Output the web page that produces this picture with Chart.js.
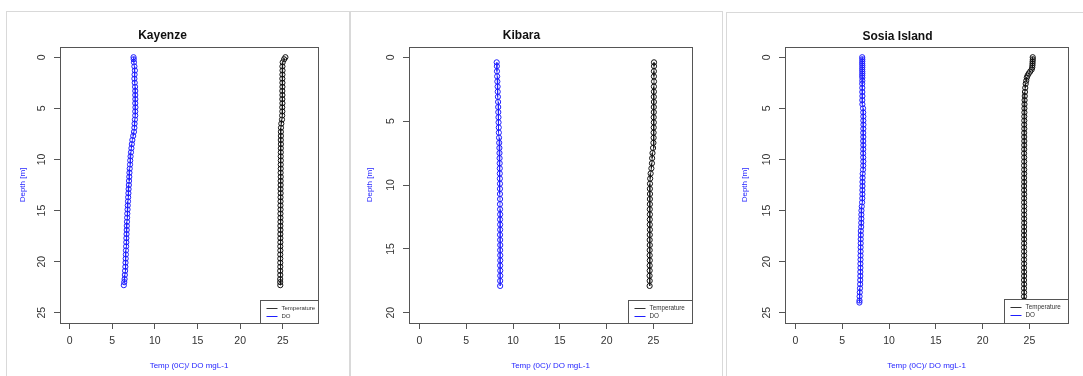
<!DOCTYPE html>
<html>
<head>
<meta charset="utf-8">
<script src="https://cdn.jsdelivr.net/npm/chart.js@4.4.1/dist/chart.umd.min.js"></script>
<style>
body { margin:0; background:#fff; width:1083px; height:376px; overflow:hidden; position:relative; }
.panel { position:absolute; border:1px solid #d9d9d9; border-bottom:none; background:#fff; }
canvas { display:block; }
</style>
</head>
<body>
<div class="panel" style="left:6px;top:11px;"><canvas id="c1" width="342" height="364"></canvas></div>
<div class="panel" style="left:350px;top:11px;"><canvas id="c2" width="371" height="364"></canvas></div>
<div class="panel" style="left:726px;top:12px;"><canvas id="c3" width="360" height="363"></canvas></div>
<script>
// tick labels
var xTicks = [0, 5, 10, 15, 20, 25];
var kayYTicks = [0, 5, 10, 15, 20, 25];
var kibYTicks = [0, 5, 10, 15, 20];
var sosYTicks = [0, 5, 10, 15, 20, 25];

// Kayenze profile
var kayDepth = [0,0.2,0.5,0.9,1.3,1.7,2.1,2.5,2.9,3.3,3.7,4.1,4.5,4.9,5.3,5.7,6.1,6.5,6.9,7.3,
  7.7,8.1,8.5,8.9,9.3,9.7,10.1,10.5,10.9,11.3,11.7,12.1,12.5,12.9,13.3,13.7,14.1,14.5,14.9,15.3,
  15.7,16.1,16.5,16.9,17.3,17.7,18.1,18.5,18.9,19.3,19.7,20.1,20.5,20.9,21.3,21.7,22.0,22.3];
var kayTemp = [25.30,25.15,24.98,24.95,24.96,24.95,24.94,24.95,24.95,24.94,24.95,24.94,24.95,24.93,24.94,24.92,24.90,24.82,24.78,24.77,
  24.77,24.76,24.77,24.76,24.76,24.75,24.76,24.75,24.75,24.74,24.75,24.74,24.74,24.73,24.74,24.73,24.73,24.72,24.73,24.72,
  24.72,24.72,24.71,24.72,24.71,24.71,24.71,24.70,24.71,24.70,24.70,24.70,24.70,24.69,24.70,24.69,24.69,24.70];
var kayDO = [7.50,7.52,7.55,7.60,7.66,7.62,7.60,7.64,7.68,7.70,7.70,7.71,7.70,7.72,7.70,7.70,7.66,7.62,7.60,7.55,
  7.46,7.36,7.30,7.25,7.20,7.15,7.11,7.09,7.05,7.02,7.00,6.97,6.95,6.92,6.90,6.87,6.85,6.82,6.80,6.77,
  6.75,6.73,6.71,6.70,6.68,6.66,6.65,6.63,6.61,6.60,6.58,6.56,6.54,6.51,6.48,6.45,6.41,6.36];

// Kibara profile
var kibDepth = [0.4,0.7,1.1,1.5,1.9,2.3,2.7,3.1,3.5,3.9,4.3,4.7,5.1,5.5,5.9,6.3,6.7,7.1,7.5,7.9,
  8.3,8.7,9.1,9.5,9.9,10.3,10.7,11.1,11.5,11.9,12.3,12.7,13.1,13.5,13.9,14.3,14.7,15.1,15.5,15.9,
  16.3,16.7,17.1,17.5,17.9];
var kibTemp = [25.06,25.06,25.05,25.05,25.06,25.05,25.05,25.04,25.05,25.04,25.04,25.03,25.04,25.03,25.02,25.02,25.00,24.96,24.90,24.86,
  24.84,24.78,24.70,24.65,24.63,24.62,24.63,24.62,24.62,24.61,24.62,24.61,24.61,24.62,24.61,24.60,24.61,24.60,24.60,24.61,
  24.60,24.60,24.59,24.60,24.59];
var kibDO = [8.25,8.27,8.28,8.30,8.32,8.35,8.36,8.38,8.40,8.41,8.42,8.44,8.45,8.47,8.48,8.50,8.52,8.54,8.55,8.56,
  8.57,8.58,8.58,8.59,8.60,8.60,8.60,8.61,8.60,8.61,8.62,8.61,8.62,8.62,8.61,8.62,8.63,8.62,8.63,8.63,
  8.62,8.63,8.63,8.62,8.62];

// Sosia Island profile
var sosDepth = [0,0.2,0.4,0.6,0.8,1.0,1.2,1.4,1.6,1.8,2.0,2.3,2.6,3.0,3.4,3.8,4.2,4.6,5.0,5.4,
  5.8,6.2,6.6,7.0,7.4,7.8,8.2,8.6,9.0,9.4,9.8,10.2,10.6,11.0,11.4,11.8,12.2,12.6,13.0,13.4,
  13.8,14.2,14.6,15.0,15.4,15.8,16.2,16.6,17.0,17.4,17.8,18.2,18.6,19.0,19.4,19.8,20.2,20.6,21.0,21.4,
  21.8,22.2,22.6,23.0,23.4,23.8,24.0];
var sosTemp = [25.35,25.36,25.34,25.33,25.32,25.30,25.24,25.08,24.92,24.80,24.72,24.66,24.60,24.55,24.52,24.50,24.48,24.47,24.46,24.46,
  24.45,24.45,24.44,24.45,24.44,24.44,24.45,24.44,24.44,24.43,24.44,24.44,24.43,24.44,24.44,24.43,24.44,24.43,24.43,24.44,
  24.43,24.43,24.44,24.43,24.43,24.43,24.44,24.43,24.43,24.42,24.43,24.43,24.42,24.43,24.43,24.42,24.43,24.42,24.43,24.43,
  24.42,24.43,24.42,24.43,24.42,24.43,24.43];
var sosDO = [7.13,7.14,7.14,7.13,7.14,7.14,7.13,7.14,7.14,7.13,7.14,7.14,7.13,7.14,7.14,7.15,7.14,7.15,7.22,7.24,
  7.25,7.25,7.26,7.25,7.24,7.25,7.24,7.25,7.24,7.23,7.24,7.25,7.24,7.22,7.18,7.17,7.16,7.16,7.15,7.15,
  7.14,7.12,7.08,7.05,7.04,7.04,7.03,7.02,6.98,6.98,6.97,6.97,6.96,6.96,6.95,6.95,6.94,6.94,6.93,6.93,
  6.92,6.91,6.89,6.87,6.85,6.84,6.83];

var FONT = "'Liberation Sans', Arial, sans-serif";
var BLUE = '#1e1eff';
var AXIS = '#555';

// box around plot + R-style legend in the bottom right corner
var rPlot = {
  id: 'rPlot',
  afterDatasetsDraw: function(chart, args, opts) {
    var ctx = chart.ctx, a = chart.chartArea;
    ctx.save();
    ctx.strokeStyle = AXIS;
    ctx.lineWidth = 1;
    ctx.strokeRect(Math.round(a.left) + 0.5, Math.round(a.top) + 0.5,
      Math.round(a.right - a.left), Math.round(a.bottom - a.top));

    var w = opts.w, h = opts.h;
    var lx = Math.round(a.right) - w + 0.5, ly = Math.round(a.bottom) - h + 0.5;
    ctx.fillStyle = '#fff';
    ctx.fillRect(lx, ly, w, h);
    ctx.strokeRect(lx, ly, w, h);
    var items = [['Temperature', '#333'], ['DO', BLUE]];
    ctx.font = opts.fontSize + 'px ' + FONT;
    ctx.textBaseline = 'middle';
    items.forEach(function(it, i) {
      var yy = ly + 8 + i * 8;
      ctx.strokeStyle = it[1];
      ctx.beginPath();
      ctx.moveTo(lx + 6, yy);
      ctx.lineTo(lx + 17, yy);
      ctx.stroke();
      ctx.fillStyle = '#333';
      ctx.fillText(it[0], lx + 21, yy);
    });
    ctx.restore();
  }
};

function profile(depth, vals) {
  return depth.map(function(d, i) { return {x: vals[i], y: d}; });
}

var panels = [
  {id: 'c1', title: 'Kayenze', depth: kayDepth, temp: kayTemp, dox: kayDO, ylim: [0, 25], yTicks: kayYTicks,
   left: 53, right: 311, top: 35, bottom: 311, titleY: 24, yTitleX: 16, legendW: 58, legendH: 23, legendFont: 6},
  {id: 'c2', title: 'Kibara', depth: kibDepth, temp: kibTemp, dox: kibDO, ylim: [0, 20], yTicks: kibYTicks,
   left: 58, right: 341, top: 35, bottom: 311, titleY: 24, yTitleX: 19, legendW: 64, legendH: 23, legendFont: 6.3},
  {id: 'c3', title: 'Sosia Island', depth: sosDepth, temp: sosTemp, dox: sosDO, ylim: [0, 25], yTicks: sosYTicks,
   left: 58, right: 341, top: 34, bottom: 310, titleY: 23.5, yTitleX: 18, legendW: 64, legendH: 24, legendFont: 6.3}
];

var xlim = [0, 28];

panels.forEach(function(p) {
  var cv = document.getElementById(p.id);
  var W = cv.width, H = cv.height;
  var xe = (xlim[1] - xlim[0]) * 0.04, ye = (p.ylim[1] - p.ylim[0]) * 0.04;

  new Chart(cv, {
    type: 'scatter',
    data: {
      datasets: [
        {label: 'Temperature', data: profile(p.depth, p.temp), showLine: true,
         borderColor: '#111', borderWidth: 0.8, pointRadius: 2.6, pointBorderWidth: 1,
         pointBorderColor: '#111', pointBackgroundColor: 'rgba(0,0,0,0)'},
        {label: 'DO', data: profile(p.depth, p.dox), showLine: true,
         borderColor: BLUE, borderWidth: 0.8, pointRadius: 2.6, pointBorderWidth: 1,
         pointBorderColor: BLUE, pointBackgroundColor: 'rgba(0,0,0,0)'}
      ]
    },
    options: {
      responsive: false,
      animation: false,
      devicePixelRatio: 1,
      events: [],
      layout: {padding: {left: 0, right: W - p.right, top: 0, bottom: 0}},
      plugins: {
        legend: {display: false},
        tooltip: {enabled: false},
        title: {display: true, text: p.title, color: '#111',
          font: {family: FONT, size: 12, weight: 'bold'},
          padding: {top: p.titleY - 7.2, bottom: p.top - p.titleY - 7.2}},
        rPlot: {w: p.legendW, h: p.legendH, fontSize: p.legendFont}
      },
      scales: {
        x: {
          type: 'linear', min: xlim[0] - xe, max: xlim[1] + xe,
          afterBuildTicks: function(s) { s.ticks = xTicks.map(function(v) { return {value: v}; }); },
          afterFit: function(s) { s.height = H - p.bottom; },
          border: {display: false},
          grid: {drawOnChartArea: false, drawTicks: true, tickLength: 6, color: AXIS},
          ticks: {font: {family: FONT, size: 10.5}, color: '#333', padding: 6, maxRotation: 0, autoSkip: false},
          title: {display: true, text: 'Temp (0C)/ DO mgL-1', color: BLUE,
            font: {family: FONT, size: 8}, padding: {top: 0, bottom: 5.2}}
        },
        y: {
          type: 'linear', reverse: true, min: p.ylim[0] - ye, max: p.ylim[1] + ye,
          afterBuildTicks: function(s) { s.ticks = p.yTicks.map(function(v) { return {value: v}; }); },
          afterFit: function(s) { s.width = p.left; },
          border: {display: false},
          grid: {drawOnChartArea: false, drawTicks: true, tickLength: 6, color: AXIS},
          ticks: {font: {family: FONT, size: 10.5}, color: '#333', padding: 5.7,
            minRotation: 90, maxRotation: 90, crossAlign: 'center', autoSkip: false},
          title: {display: true, text: 'Depth [m]', color: BLUE,
            font: {family: FONT, size: 8}, padding: {top: p.yTitleX - 4.8, bottom: 0}}
        }
      }
    },
    plugins: [rPlot]
  });
});
</script>
</body>
</html>
